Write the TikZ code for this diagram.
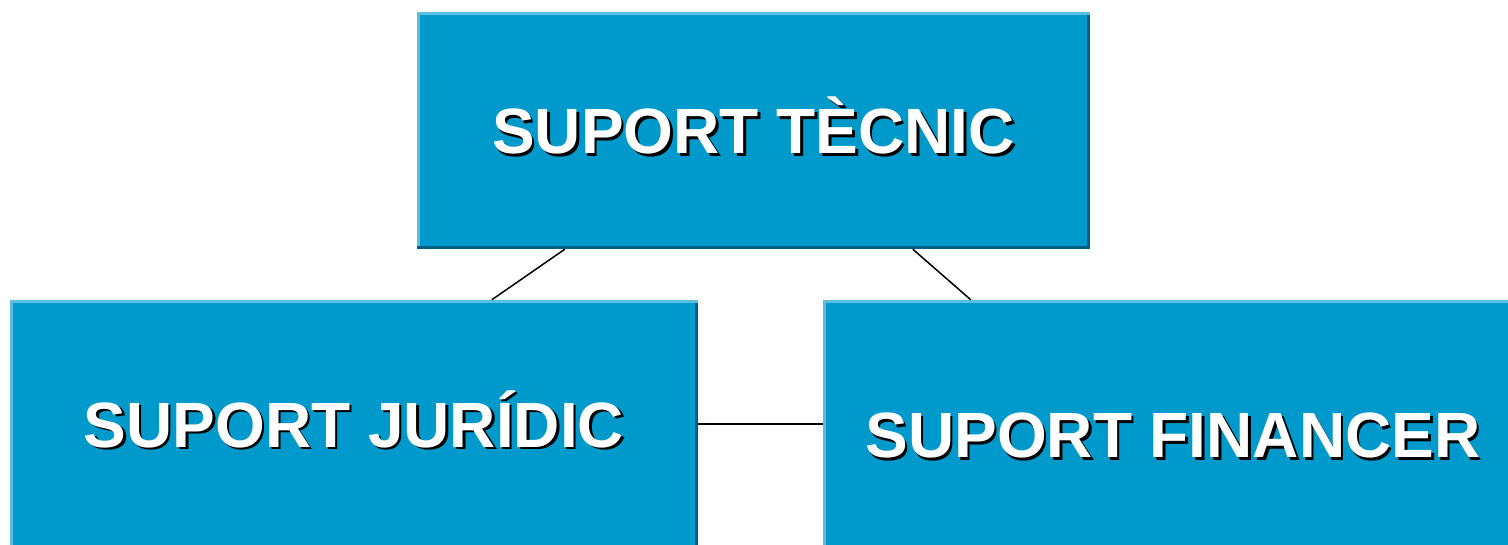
\documentclass[tikz,border=0pt]{standalone}
\usepackage{fontspec}
\setmainfont{Liberation Sans}
\usepackage{tikz}
\usetikzlibrary{calc}

\definecolor{supblue}{HTML}{0099CB}
\definecolor{suplite}{HTML}{5CBFE0}
\definecolor{supdark}{HTML}{005F80}

\newcommand\shadowtxt[1]{\rlap{\kern2.5pt\raisebox{-2.5pt}{\color{black}#1}}#1}

\tikzset{
  blk/.style={fill=supblue, inner sep=0pt, text=white,
    font=\fontsize{64}{70}\selectfont\bfseries,
    text height=46pt, text depth=0pt},
  lite/.style={draw=suplite, line width=3pt},
  dark/.style={draw=supdark, line width=3pt},
  link/.style={draw=black, line width=1.5pt}
}

\begin{document}
\begin{tikzpicture}[x=1pt,y=-1pt]
\clip (0,0) rectangle (1508,544);

\node[blk, minimum width=673pt, minimum height=237pt] (tec) at (753.5,130.5) {\shadowtxt{SUPORT TÈCNIC}};
\node[blk, minimum width=688pt, minimum height=248pt] (jur) at (354,424) {\shadowtxt{SUPORT JURÍDIC}};
\node[blk, minimum width=700pt, minimum height=269pt] (fin) at (1173,434.5) {\shadowtxt{SUPORT FINANCER}};

% box edges
\foreach \b in {tec,jur,fin}{
  \draw[lite] ([xshift=1.5pt]\b.south west) |- ([yshift=-1.5pt]\b.north east);
  \draw[dark] ([yshift=1.5pt]\b.south west) -| ([xshift=-1.5pt,yshift=-3pt]\b.north east);
}

% links
\draw[link] ([xshift=148pt]tec.south west) -- ([xshift=482pt]jur.north west);
\draw[link] ([xshift=496pt]tec.south west) -- ([xshift=148pt]fin.north west);
\draw[link] (jur.east) -- (jur.east -| fin.west);
\end{tikzpicture}
\end{document}
